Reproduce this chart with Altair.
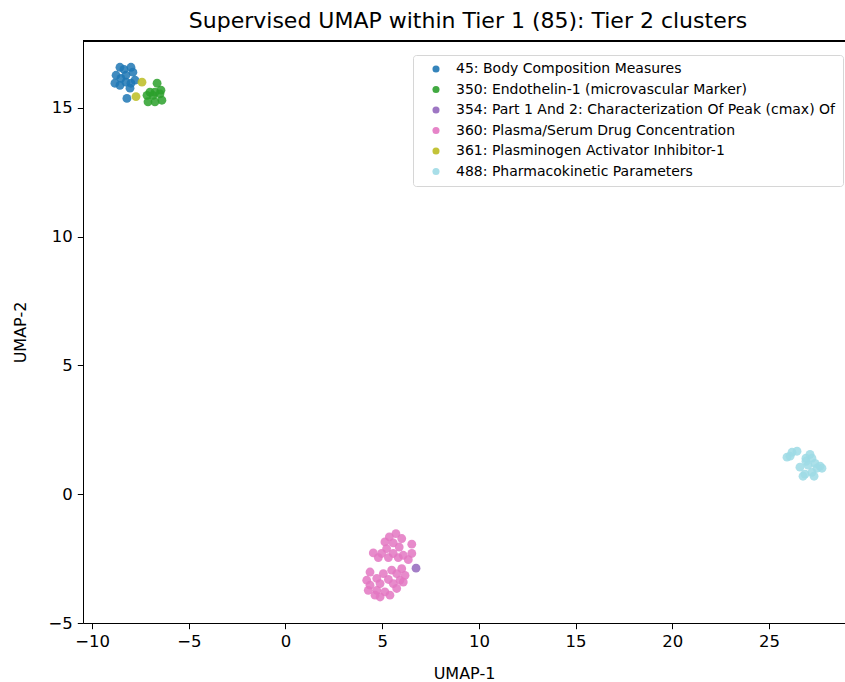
import altair as alt
import pandas as pd

# Tier 2 cluster labels and colours
cluster_names = [
    "45: Body Composition Measures",
    "350: Endothelin-1 (microvascular Marker)",
    "354: Part 1 And 2: Characterization Of Peak (cmax) Of",
    "360: Plasma/Serum Drug Concentration",
    "361: Plasminogen Activator Inhibitor-1",
    "488: Pharmacokinetic Parameters",
]
cluster_colors = ["#1f77b4", "#2ca02c", "#9467bd", "#e377c2", "#bcbd22", "#9edae5"]

# UMAP coordinates per cluster
c45_x = [-8.56, -8.35, -7.99, -7.89, -8.76, -8.51, -8.25, -8.82, -8.56, -8.25, -7.99, -8.04, -8.20, -7.78]
c45_y = [16.58, 16.50, 16.58, 16.39, 16.27, 16.15, 16.27, 15.96, 15.88, 16.00, 15.96, 15.77, 15.37, 16.08]

c350_x = [-6.64, -7.01, -6.75, -6.44, -7.16, -6.85, -6.49, -6.39, -6.75, -7.11]
c350_y = [15.96, 15.61, 15.61, 15.69, 15.49, 15.49, 15.55, 15.30, 15.24, 15.24]

c354_x = [6.75]
c354_y = [-2.87]

c360_x = [5.71, 5.37, 6.01, 5.14, 5.57, 6.53, 5.88, 5.23, 4.54, 4.97, 5.57, 6.53, 6.09,
          4.80, 5.32, 5.83, 6.35, 6.01, 5.49, 4.37, 5.06, 5.75, 6.18, 4.20, 4.72, 5.32,
          5.92, 4.37, 4.89, 5.57, 6.09, 4.28, 4.72, 5.14, 5.75, 4.89, 5.40, 4.63]
c360_y = [-1.53, -1.66, -1.72, -1.85, -1.89, -1.94, -2.05, -2.11, -2.28, -2.30, -2.30, -2.30, -2.37,
          -2.46, -2.46, -2.46, -2.54, -2.89, -2.95, -3.02, -3.08, -3.08, -3.15, -3.34, -3.27, -3.31,
          -3.34, -3.53, -3.47, -3.47, -3.41, -3.73, -3.73, -3.79, -3.66, -3.99, -3.92, -3.92]

c361_x = [-7.42, -7.73]
c361_y = [16.00, 15.44]

c488_x = [25.93, 26.19, 26.45, 26.91, 27.12, 27.22, 26.60, 27.02, 27.38, 27.64, 26.86, 27.22,
          27.33, 26.76, 27.74, 26.91, 27.48, 26.09]
c488_y = [1.44, 1.63, 1.67, 1.40, 1.55, 1.40, 1.05, 1.13, 1.20, 1.09, 0.78, 0.85,
          0.70, 0.70, 1.01, 1.28, 1.01, 1.48]

xs = [c45_x, c350_x, c354_x, c360_x, c361_x, c488_x]
ys = [c45_y, c350_y, c354_y, c360_y, c361_y, c488_y]

rows = []
for name, cx, cy in zip(cluster_names, xs, ys):
    for a, b in zip(cx, cy):
        rows.append({"UMAP-1": a, "UMAP-2": b, "cluster": name})
df = pd.DataFrame(rows)

W, H = 762, 582
FONT = "DejaVu Sans"

points = alt.Chart(df).mark_circle(size=78, opacity=0.85).encode(
    x=alt.X("UMAP-1:Q",
            scale=alt.Scale(domain=[-10.47, 28.93], nice=False, zero=False),
            axis=alt.Axis(values=[-10, -5, 0, 5, 10, 15, 20, 25], format="d",
                          title="UMAP-1", titlePadding=15)),
    y=alt.Y("UMAP-2:Q",
            scale=alt.Scale(domain=[-5, 17.6], nice=False, zero=False),
            axis=alt.Axis(values=[-5, 0, 5, 10, 15], format="d",
                          title="UMAP-2", titlePadding=19)),
    color=alt.Color("cluster:N",
                    scale=alt.Scale(domain=cluster_names, range=cluster_colors),
                    legend=alt.Legend(title=None, orient="none", legendX=330, legendY=14,
                                      fillColor="white", strokeColor="#d6d6d6",
                                      cornerRadius=3, padding=7, symbolOffset=9,
                                      symbolSize=50, symbolOpacity=0.9,
                                      labelFontSize=14, labelFont=FONT, labelColor="#000",
                                      labelLimit=600, labelOffset=13, rowPadding=6.5)),
)

# top spine of the axes frame
top_spine = alt.Chart(df).mark_rule(color="black", strokeWidth=1).encode(
    x=alt.value(0), x2=alt.value(W), y=alt.value(0)
)

chart = alt.layer(points, top_spine).properties(
    width=W, height=H,
    title=alt.Title("Supervised UMAP within Tier 1 (85): Tier 2 clusters",
                    font=FONT, fontSize=22, fontWeight="normal", color="#000",
                    offset=8, dx=4),
    autosize=alt.AutoSizeParams(type="none"),
    padding={"left": 83, "top": 41, "right": 0, "bottom": 59},
).configure_view(stroke=None).configure_axis(
    labelFont=FONT, labelFontSize=16.5, labelColor="#000",
    titleFont=FONT, titleFontSize=16, titleFontWeight="normal", titleColor="#000",
    domainColor="#000", tickColor="#000", tickSize=5.7, grid=False, labelPadding=5,
)

chart.save("out.html", embed_options={"renderer": "svg", "actions": False})
